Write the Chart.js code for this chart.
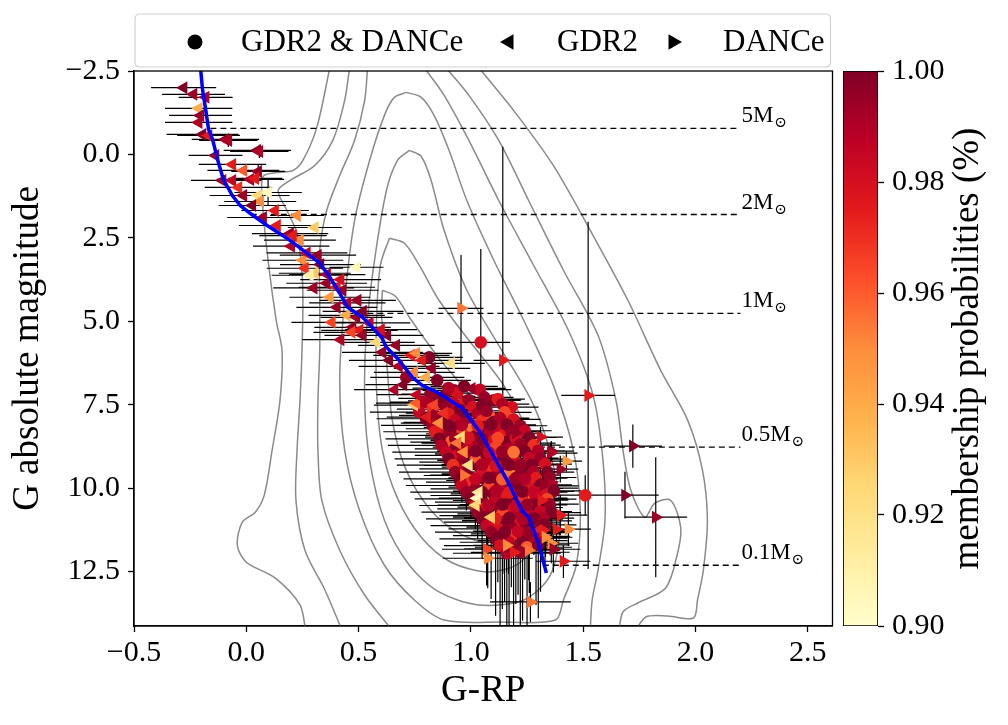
<!DOCTYPE html>
<html><head><meta charset="utf-8">
<script src="https://cdn.jsdelivr.net/npm/chart.js@4.4.1/dist/chart.umd.min.js"></script>
<style>
html,body{margin:0;padding:0;background:#fff;width:1008px;height:725px;overflow:hidden}
#main{position:absolute;left:0;top:0}
#cbar{position:absolute;left:842px;top:0}
</style></head><body>
<canvas id="main" width="840" height="725"></canvas>
<canvas id="cbar" width="166" height="725"></canvas>
<script>
const FONT = "'Liberation Serif','DejaVu Serif',serif";
const xRange = [-0.5, 2.61];
const yRange = [-2.5, 14.13];
const probRange = [0.90, 1.00];
const xTicks = [-0.5, 0, 0.5, 1, 1.5, 2, 2.5];
const yTicks = [-2.5, 0, 2.5, 5, 7.5, 10, 12.5];
const cbTicks = [0.90, 0.92, 0.94, 0.96, 0.98, 1.00];
const legendLabels = ['GDR2 & DANCe', 'GDR2', 'DANCe'];
const xTitle = 'G-RP';
const yTitle = 'G absolute magnitude';
const cbTitle = 'membership probabilities (%)';

// mass reference lines
const massLabels = ['5', '2', '1', '0.5', '0.1'];
const massMag = [-0.78, 1.80, 4.76, 8.77, 12.31];
const massStart = [-0.16, 0.02, 0.45, 1.08, 1.32];
const massEnd = 2.2;

// isochrone
const isoX = [-0.204,-0.195,-0.181,-0.168,-0.150,-0.128,-0.102,-0.062,-0.027,0.018,0.093,0.181,0.252,0.327,0.372,0.416,0.451,0.518,0.602,0.624,0.681,0.739,0.783,0.858,0.960,1.035,1.111,1.168,1.226,1.257,1.301,1.336];
const isoY = [-2.6,-1.95,-1.35,-0.75,-0.45,0.15,0.75,1.23,1.53,1.77,2.13,2.51,2.87,3.26,3.68,4.16,4.58,4.88,5.48,5.78,6.17,6.68,6.92,7.16,7.60,8.26,9.16,9.85,10.66,10.87,11.65,12.54];

// [G-RP, G, errG-RP, errG, probability]
const gdrDance = [
[0.814,6.08,0.15,0.10,1.00],[0.712,6.68,0.16,0.10,0.995],[0.850,6.77,0.15,0.12,1.00],[0.925,7.07,0.14,0.10,0.995],[0.827,7.31,0.15,0.10,0.99],
[1.044,5.63,0.13,2.80,0.98],[1.509,10.21,0.30,0.60,0.975],
[0.969,7.46,0.13,0.12,0.975],[1.102,7.37,0.12,0.12,1.00],[1.181,7.57,0.12,0.15,0.98],
[1.124,8.32,0.14,0.20,0.955],[1.058,9.10,0.16,0.30,0.955],[1.190,9.67,0.15,0.40,0.95],[1.044,9.52,0.17,0.35,0.955],[1.102,10.30,0.17,0.55,0.95],
[1.358,10.00,0.12,0.50,0.995],[1.270,9.61,0.13,0.45,1.00],[1.257,8.65,0.12,0.25,0.995],
[0.82,7.18,0.13,0.12,0.995],[0.88,7.25,0.14,0.10,1.00],[0.94,7.15,0.12,0.12,0.98],
[0.79,7.42,0.15,0.12,0.99],[0.86,7.38,0.14,0.15,1.00],[0.92,7.45,0.13,0.10,0.985],[0.99,7.36,0.12,0.12,0.995],
[0.83,7.63,0.16,0.15,0.97],[0.89,7.58,0.14,0.12,0.995],[0.95,7.65,0.13,0.15,1.00],[1.01,7.57,0.12,0.10,0.98],
[0.84,7.82,0.16,0.15,0.995],[0.90,7.78,0.15,0.18,0.975],[0.97,7.84,0.14,0.15,1.00],[1.03,7.76,0.13,0.15,0.99],[1.08,7.81,0.12,0.12,0.96],
[0.87,8.03,0.17,0.18,1.00],[0.93,7.97,0.15,0.20,0.985],[0.99,8.04,0.14,0.18,0.995],[1.05,7.98,0.13,0.15,0.97],[1.10,8.02,0.12,0.18,1.00],
[0.88,8.22,0.17,0.20,0.98],[0.94,8.18,0.15,0.20,1.00],[1.00,8.24,0.14,0.22,0.955],[1.06,8.17,0.13,0.20,0.995],[1.12,8.21,0.13,0.20,0.985],
[0.90,8.42,0.18,0.20,0.995],[0.96,8.37,0.16,0.22,0.97],[1.02,8.44,0.14,0.20,1.00],[1.08,8.38,0.13,0.25,0.99],[1.14,8.42,0.12,0.22,0.975],
[0.91,8.62,0.18,0.25,0.96],[0.98,8.57,0.16,0.25,1.00],[1.04,8.64,0.15,0.25,0.99],[1.10,8.58,0.14,0.25,0.98],[1.16,8.61,0.13,0.22,1.00],
[0.93,8.82,0.18,0.25,1.00],[0.99,8.77,0.16,0.30,0.985],[1.05,8.84,0.15,0.28,0.995],[1.11,8.78,0.14,0.25,0.965],[1.17,8.82,0.13,0.30,0.99],
[0.94,9.02,0.19,0.30,0.98],[1.01,8.97,0.17,0.30,0.995],[1.07,9.04,0.15,0.30,1.00],[1.13,8.98,0.14,0.30,0.975],[1.19,9.01,0.13,0.30,0.995],
[0.96,9.22,0.19,0.30,0.995],[1.02,9.17,0.17,0.35,0.96],[1.08,9.24,0.16,0.35,0.99],[1.14,9.18,0.15,0.30,1.00],[1.20,9.22,0.14,0.35,0.98],
[0.97,9.42,0.20,0.35,0.985],[1.04,9.37,0.17,0.40,1.00],[1.10,9.44,0.16,0.35,0.97],[1.16,9.38,0.15,0.40,0.995],[1.22,9.41,0.14,0.40,0.99],
[0.99,9.62,0.20,0.40,1.00],[1.05,9.57,0.18,0.40,0.98],[1.11,9.64,0.16,0.45,0.995],[1.17,9.58,0.15,0.40,0.955],[1.23,9.61,0.14,0.45,1.00],
[1.00,9.82,0.20,0.45,0.97],[1.07,9.77,0.18,0.50,0.995],[1.13,9.84,0.17,0.45,1.00],[1.19,9.78,0.15,0.50,0.985],[1.25,9.81,0.14,0.45,0.975],
[1.02,10.02,0.20,0.50,0.995],[1.08,9.97,0.18,0.55,0.965],[1.14,10.04,0.17,0.50,0.99],[1.20,9.98,0.16,0.55,1.00],[1.26,10.01,0.15,0.50,0.98],
[1.03,10.22,0.21,0.55,0.98],[1.10,10.17,0.19,0.60,1.00],[1.16,10.24,0.17,0.60,0.975],[1.22,10.18,0.16,0.55,0.995],[1.28,10.21,0.15,0.60,0.96],
[1.05,10.42,0.21,0.60,0.995],[1.11,10.37,0.19,0.65,0.985],[1.17,10.44,0.17,0.60,1.00],[1.23,10.38,0.16,0.65,0.97],
[1.06,10.62,0.21,0.65,0.975],[1.13,10.57,0.19,0.70,0.995],[1.19,10.64,0.18,0.70,0.98],[1.25,10.58,0.16,0.65,1.00],
[1.08,10.82,0.22,0.70,1.00],[1.14,10.77,0.20,0.75,0.965],[1.20,10.84,0.18,0.70,0.99],[1.26,10.78,0.16,0.75,0.985],
[1.10,11.02,0.22,0.75,0.99],[1.16,10.97,0.20,0.80,1.00],[1.22,11.04,0.18,0.80,0.975],[1.28,10.98,0.17,0.75,0.995],
[1.12,11.22,0.22,1.60,0.98],[1.18,11.17,0.20,1.80,0.995],[1.24,11.24,0.18,1.50,1.00],
[1.14,11.42,0.22,2.20,1.00],[1.20,11.37,0.20,2.10,0.97],[1.26,11.44,0.18,1.70,0.99],
[1.17,11.62,0.22,2.50,0.985],[1.23,11.57,0.20,2.40,1.00],
[1.19,11.82,0.22,2.40,0.995],[1.25,11.77,0.20,2.50,0.96],
[0.90,7.00,0.16,0.10,0.99],[0.97,6.95,0.15,0.10,1.00],[1.04,7.05,0.14,0.12,0.985],
[1.06,7.28,0.13,0.12,0.995],[1.12,7.33,0.12,0.12,0.975],[1.05,7.52,0.13,0.15,1.00],[1.14,7.48,0.12,0.15,0.99],
[0.77,7.72,0.22,0.15,0.985],[1.07,7.68,0.13,0.15,0.995],[1.15,7.73,0.12,0.15,0.965],
[0.80,7.92,0.22,0.18,1.00],[1.13,7.90,0.13,0.18,0.99],[1.19,7.94,0.12,0.18,0.98],
[0.83,8.12,0.23,0.20,0.99],[1.16,8.10,0.13,0.20,1.00],[1.22,8.13,0.12,0.20,0.995],
[0.84,8.31,0.23,0.20,0.975],[1.18,8.30,0.13,0.22,0.995],[1.24,8.28,0.12,0.22,0.985],
[0.86,8.52,0.24,0.25,1.00],[1.20,8.50,0.13,0.25,0.98],[1.26,8.48,0.12,0.25,1.00],
[0.87,8.72,0.24,0.25,0.99],[1.22,8.70,0.13,0.28,0.995],[1.28,8.71,0.12,0.28,0.97],
[0.89,8.92,0.24,0.30,0.985],[1.24,8.90,0.13,0.30,1.00],[1.30,8.88,0.12,0.30,0.99],
[0.90,9.12,0.24,0.30,1.00],[1.26,9.10,0.13,0.35,0.985],[1.31,9.13,0.12,0.35,0.995],
[0.92,9.31,0.25,0.35,0.97],[1.27,9.30,0.13,0.40,1.00],[1.33,9.28,0.12,0.40,0.98],
[0.93,9.52,0.25,0.40,0.995],[1.28,9.50,0.13,0.45,0.99],[1.34,9.52,0.12,0.45,1.00],
[0.95,9.72,0.25,0.45,1.00],[1.29,9.70,0.14,0.50,0.975],[1.35,9.68,0.12,0.50,0.995],
[0.96,9.92,0.25,0.50,0.985],[1.31,9.90,0.14,0.55,1.00],[1.36,9.93,0.12,0.55,0.99],
[0.98,10.12,0.25,0.55,0.995],[1.32,10.10,0.14,0.60,0.98],[1.37,10.08,0.12,0.60,1.00],
[1.00,10.32,0.25,0.60,1.00],[1.29,10.30,0.14,0.65,0.99],[1.34,10.33,0.13,0.65,0.965],
[1.02,10.52,0.25,0.70,0.98],[1.29,10.50,0.14,0.70,1.00],[1.35,10.48,0.13,0.70,0.995],
[1.03,10.72,0.25,0.80,0.995],[1.31,10.70,0.14,0.80,0.985],[1.36,10.73,0.13,0.80,1.00],
[1.05,10.92,0.25,1.20,1.00],[1.32,10.90,0.14,1.10,0.99],
[1.07,11.12,0.25,1.80,0.985],[1.33,11.10,0.14,1.40,1.00],
[1.09,11.32,0.25,2.00,0.995],[1.31,11.30,0.14,1.80,0.975],
[1.11,11.52,0.25,2.30,1.00],[1.29,11.50,0.14,2.00,0.99],
[1.13,11.72,0.25,2.40,0.98],[1.30,11.70,0.14,2.20,1.00],
[1.16,11.95,0.24,2.30,0.99],[1.22,11.92,0.22,2.30,0.995],
[0.90,8.12,0.18,0.20,1.00],[0.96,8.10,0.16,0.20,0.99],[1.03,8.13,0.14,0.20,0.975],[1.09,8.09,0.13,0.20,1.00],
[0.93,8.52,0.18,0.25,0.995],[0.99,8.49,0.16,0.25,0.98],[1.05,8.53,0.15,0.25,1.00],[1.12,8.50,0.14,0.25,0.965],
[0.96,8.92,0.19,0.30,0.99],[1.02,8.89,0.17,0.30,1.00],[1.08,8.93,0.16,0.30,0.985],[1.14,8.90,0.15,0.30,0.995],[1.19,8.92,0.14,0.30,0.955],
[0.99,9.32,0.20,0.35,1.00],[1.05,9.29,0.18,0.40,0.99],[1.11,9.33,0.16,0.40,0.98],[1.17,9.30,0.15,0.40,1.00],[1.22,9.31,0.14,0.40,0.995],
[1.02,9.72,0.20,0.45,0.985],[1.08,9.69,0.18,0.50,1.00],[1.14,9.73,0.17,0.50,0.96],[1.20,9.70,0.16,0.50,0.995],[1.24,9.72,0.15,0.50,0.99],
[1.05,10.12,0.21,0.55,1.00],[1.11,10.09,0.19,0.60,0.99],[1.17,10.13,0.17,0.60,0.975],[1.23,10.10,0.16,0.60,1.00],[1.28,10.12,0.15,0.60,0.985],
[1.08,10.52,0.21,0.70,0.99],[1.14,10.49,0.19,0.70,1.00],[1.20,10.53,0.18,0.70,0.985],[1.25,10.50,0.16,0.70,0.995],
[1.11,10.92,0.22,1.30,0.975],[1.17,10.89,0.20,1.20,1.00],[1.23,10.93,0.18,1.40,0.99],[1.28,10.90,0.17,1.10,1.00],
[1.15,11.32,0.22,2.10,1.00],[1.21,11.29,0.20,1.90,0.985],[1.26,11.33,0.18,1.70,0.995]
];
const gdrOnly = [
[-0.279,-2.00,0.145,0.03,1.00],[-0.235,-1.80,0.140,0.03,0.995],[-0.181,-1.71,0.120,0.03,0.99],[-0.212,-1.38,0.150,0.03,0.94],
[-0.204,-1.17,0.140,0.03,0.995],[-0.212,-0.96,0.150,0.03,0.99],[-0.195,-0.60,0.160,0.03,1.00],[-0.168,-0.57,0.140,0.03,0.975],
[-0.093,-0.45,0.150,0.04,0.995],[-0.080,-0.42,0.130,0.20,0.99],[-0.137,0.03,0.120,0.04,0.995],[0.049,-0.12,0.150,0.04,1.00],
[0.058,-0.09,0.130,0.20,0.99],[-0.062,0.30,0.150,0.04,0.975],[-0.013,0.48,0.160,0.04,0.96],[0.053,0.51,0.120,0.20,0.995],
[-0.106,0.78,0.140,0.04,0.995],[-0.062,0.78,0.130,0.04,0.985],[0.018,0.75,0.150,0.05,0.99],[0.040,0.72,0.120,0.05,0.975],
[-0.035,0.99,0.150,0.05,0.97],[0.053,1.23,0.140,0.05,0.925],[0.097,1.14,0.150,0.40,0.905],[-0.013,1.23,0.150,0.05,0.995],
[0.062,1.41,0.160,0.05,0.95],[0.027,1.53,0.150,0.05,1.00],[0.128,1.68,0.150,0.05,0.975],[0.075,1.89,0.160,0.05,0.995],
[0.226,1.83,0.120,0.05,0.95],[0.137,2.13,0.170,0.05,0.975],[0.305,2.19,0.120,0.05,0.93],[0.195,2.37,0.170,0.05,0.995],
[0.239,2.57,0.160,0.05,0.95],[0.208,2.43,0.150,0.05,0.975],[0.319,3.02,0.170,0.06,0.995],[0.252,3.17,0.180,0.06,0.95],
[0.261,3.41,0.170,0.06,0.97],[0.305,3.56,0.160,0.06,0.93],[0.283,3.62,0.170,0.06,0.91],[0.491,3.38,0.120,0.06,0.905],
[0.358,3.86,0.180,0.06,0.995],[0.403,3.98,0.170,0.06,0.975],[0.429,4.07,0.160,0.06,0.995],[0.372,4.28,0.180,0.06,0.945],
[0.496,4.37,0.170,0.06,0.995],[0.403,4.58,0.180,0.06,0.995],[0.447,4.82,0.170,0.07,0.94],[0.491,4.88,0.160,0.07,0.995],
[0.381,5.03,0.180,0.07,0.965],[0.473,5.18,0.170,0.07,0.995],[0.504,5.27,0.170,0.07,0.975],[0.469,5.33,0.170,0.07,0.965],
[0.518,5.42,0.170,0.07,0.995],[0.628,5.42,0.160,0.07,1.00],[0.580,5.63,0.170,0.08,0.925],[0.668,5.72,0.170,0.08,0.995],
[0.606,5.93,0.180,0.08,0.995],[0.735,6.02,0.170,0.08,0.975],[0.757,5.96,0.160,0.08,0.95],[0.783,6.17,0.170,0.08,0.975],
[0.637,6.17,0.180,0.08,1.00],[0.912,6.26,0.150,0.08,0.92],[0.827,6.41,0.170,0.08,0.995],[0.748,6.53,0.180,0.09,0.95],
[0.801,6.68,0.170,0.09,0.94],[1.004,7.01,0.150,0.10,0.995],[0.748,7.51,0.180,0.10,0.93],[0.836,7.51,0.170,0.10,0.965],
[0.805,7.87,0.180,0.12,0.975],[0.757,7.45,0.180,0.10,0.96],[0.858,8.05,0.170,0.12,0.95],[0.956,8.47,0.160,0.15,0.925],
[0.940,8.65,0.160,0.15,0.955],[0.969,8.92,0.160,0.20,0.95],[0.991,9.31,0.160,0.20,0.92],[1.035,10.12,0.170,0.30,0.915],
[1.027,10.30,0.170,0.30,0.905],[1.022,10.51,0.170,0.30,0.925],[1.090,10.87,0.170,0.30,0.93],[0.880,7.75,0.170,0.10,0.97],
[0.20,2.75,0.17,0.05,0.99],[0.27,2.95,0.18,0.06,0.985],[0.33,3.30,0.18,0.06,1.00],[0.36,3.60,0.17,0.06,0.99],
[0.42,3.75,0.18,0.06,0.98],[0.30,4.00,0.18,0.06,0.995],[0.45,4.45,0.17,0.06,0.99],[0.52,4.70,0.18,0.07,1.00],
[0.55,5.05,0.18,0.07,0.985],[0.42,5.55,0.17,0.07,0.99],[0.60,5.25,0.16,0.07,0.98],[0.68,6.35,0.18,0.08,0.99],
[0.70,6.90,0.17,0.08,1.00],[0.76,7.20,0.18,0.10,0.985],[0.66,7.05,0.18,0.10,0.99]
];
const danceOnly = [
[0.956,4.61,0.10,1.60,0.955],[1.142,6.17,0.13,6.40,0.975],[1.522,7.22,0.12,5.20,0.975],[1.721,8.74,0.13,0.65,1.00],
[1.425,9.19,0.07,0.30,0.945],[1.398,9.43,0.08,0.40,0.995],[1.686,10.21,0.15,0.70,1.00],[1.823,10.87,0.14,1.80,0.995],
[1.358,8.89,0.10,0.30,0.995],[1.310,8.47,0.10,0.30,0.98],[1.265,13.41,0.18,0.60,0.955],[1.412,12.19,0.12,0.50,0.975],
[1.398,10.81,0.12,0.60,0.975],[1.434,11.23,0.10,0.50,0.95],[1.381,11.23,0.12,0.60,0.975],[1.071,11.83,0.20,0.80,0.965],
[1.075,12.10,0.20,0.90,0.95],[0.969,9.61,0.15,0.30,0.955],[1.323,9.91,0.12,0.40,0.995],[1.314,10.36,0.12,0.50,0.975],
[1.323,11.26,0.12,0.60,0.975],[1.332,11.47,0.12,0.60,0.95],[1.358,11.65,0.12,0.60,0.95],[1.168,11.77,0.15,0.80,0.995],
[1.190,11.92,0.15,0.90,0.975],[1.257,11.86,0.14,0.90,0.955],[1.367,11.83,0.12,0.70,0.995],[1.159,11.71,0.15,0.80,0.95],
[1.199,8.35,0.12,0.30,0.995],[1.355,8.95,0.12,0.30,0.99]
];

// grey density contours [G-RP, G]
const contour1 = [[0.372,-2.6],[0.314,-0.81],[0.252,0.18],[0.208,0.48],[0.137,0.54],[0.075,0.66],[0.071,1.38],[0.097,3.17],[0.133,4.97],[0.159,5.87],[0.150,7.37],[0.115,8.86],[0.080,10.21],[0.040,10.72],[-0.018,11.02],[-0.040,11.71],[0.000,12.22],[0.128,12.69],[0.239,13.50],[0.265,14.3]];
const contour2 = [[1.035,-2.6],[1.190,-1.32],[1.367,0.33],[1.544,2.43],[1.699,4.37],[1.845,6.47],[1.965,7.96],[2.031,9.46],[2.053,10.96],[2.035,12.46],[2.009,13.35],[1.991,13.89],[1.876,13.83],[1.779,13.86],[1.730,14.3]];
const contour3 = [[0.460,-2.6],[0.438,-1.62],[0.385,-0.42],[0.305,0.33],[0.195,0.78],[0.142,1.08],[0.181,1.68],[0.226,2.37],[0.248,3.56],[0.252,4.37],[0.248,5.87],[0.239,7.37],[0.226,8.86],[0.221,10.36],[0.261,11.86],[0.350,13.05],[0.429,14.3]];
const contour4 = [[0.889,-2.6],[0.991,-1.77],[1.124,-0.42],[1.257,1.38],[1.412,3.47],[1.566,5.42],[1.646,7.37],[1.677,8.86],[1.712,10.06],[1.774,10.87],[1.819,10.45],[1.889,10.36],[1.934,11.17],[1.920,11.95],[1.867,12.99],[1.743,13.44],[1.677,13.71],[1.659,14.3]];
const contour5 = [[0.540,-2.6],[0.527,-1.62],[0.482,-0.42],[0.416,0.63],[0.358,1.68],[0.327,2.87],[0.327,4.37],[0.327,5.87],[0.319,7.37],[0.319,8.86],[0.336,10.36],[0.416,11.86],[0.527,13.20],[0.655,14.3]];
const contour6 = [[0.792,-2.6],[0.881,-1.77],[0.991,-0.42],[1.124,1.38],[1.279,3.32],[1.434,5.27],[1.544,7.22],[1.588,9.16],[1.597,10.96],[1.566,12.46],[1.540,13.35],[1.531,14.3]];
const contour7 = [[0.712,-1.86],[0.779,-1.71],[0.836,-1.17],[0.903,-0.12],[0.982,1.38],[1.102,3.17],[1.235,4.97],[1.367,6.92],[1.456,8.86],[1.487,10.66],[1.469,12.31],[1.412,13.35],[1.376,13.95],[1.124,14.01],[0.881,13.95],[0.748,13.35],[0.615,12.31],[0.504,10.66],[0.438,8.86],[0.416,6.77],[0.438,4.37],[0.482,1.98],[0.549,0.18],[0.615,-1.17],[0.659,-1.71],[0.712,-1.86]];
const contour8 = [[0.726,-0.12],[0.779,0.06],[0.823,0.78],[0.881,2.28],[0.982,4.07],[1.124,5.72],[1.279,7.51],[1.367,9.31],[1.398,11.11],[1.354,12.60],[1.235,13.35],[1.035,13.50],[0.858,13.11],[0.726,12.31],[0.615,10.96],[0.549,9.16],[0.527,7.37],[0.535,5.27],[0.571,3.17],[0.624,1.08],[0.673,0.18],[0.726,-0.12]];
const contour9 = [[0.637,2.51],[0.704,2.66],[0.770,3.32],[0.858,4.37],[0.991,5.57],[1.146,6.92],[1.248,8.26],[1.310,9.76],[1.310,11.26],[1.221,12.22],[1.080,12.51],[0.912,12.22],[0.779,11.47],[0.673,10.30],[0.606,8.86],[0.580,7.07],[0.580,4.97],[0.597,3.32],[0.637,2.51]];
const contour10 = [[0.606,4.07],[0.664,4.25],[0.735,4.97],[0.858,6.11],[1.013,7.37],[1.137,8.71],[1.199,10.06],[1.177,11.20],[1.080,11.62],[0.947,11.35],[0.814,10.60],[0.708,9.40],[0.650,7.96],[0.624,6.17],[0.602,4.82],[0.606,4.07]];
const contours = [contour1, contour2, contour3, contour4, contour5, contour6, contour7, contour8, contour9, contour10];

// ---------- helpers ----------
const YLORRD = [[255,255,204],[255,237,160],[254,217,118],[254,178,76],[253,141,60],[252,78,42],[227,26,28],[189,0,38],[128,0,38]];
function cmap(p) {
  let t = (p - probRange[0]) / (probRange[1] - probRange[0]);
  t = Math.max(0, Math.min(1, t));
  const s = t * (YLORRD.length - 1);
  const i = Math.min(Math.floor(s), YLORRD.length - 2);
  const f = s - i, a = YLORRD[i], b = YLORRD[i + 1];
  return 'rgb(' + [0,1,2].map(k => Math.round(a[k] + (b[k] - a[k]) * f)).join(',') + ')';
}
const fmt1 = v => v.toFixed(1).replace('-', '\u2212');
const pts = s => s.map(r => ({x: r[0], y: r[1]}));
const cols = s => s.map(r => cmap(r[4]));
function errData(series) {
  const out = [];
  series.forEach(r => {
    const [x, y, ex, ey] = r;
    out.push({x: x - ex, y: y}, {x: x + ex, y: y}, {x: x, y: null},
             {x: x, y: y - ey}, {x: x, y: y + ey}, {x: x, y: null});
  });
  return out;
}
const errAll = errData(gdrDance).concat(errData(gdrOnly), errData(danceOnly));
const contourData = [];
contours.forEach(c => { c.forEach(p => contourData.push({x: p[0], y: p[1]})); contourData.push({x: c[0][0], y: null}); });
const massData = [];
massMag.forEach((m, i) => { massData.push({x: massStart[i], y: m}, {x: massEnd, y: m}, {x: massEnd, y: null}); });
const isoData = isoX.map((x, i) => ({x: x, y: isoY[i]}));

// ---------- plugins ----------
const framePlugin = {
  id: 'frame',
  afterDraw(chart) {
    const {ctx, chartArea: a} = chart;
    ctx.save(); ctx.strokeStyle = '#000'; ctx.lineWidth = 1.3;
    ctx.strokeRect(a.left, a.top, a.right - a.left, a.bottom - a.top);
    ctx.restore();
  }
};
const massPlugin = {
  id: 'massLabels',
  afterDatasetsDraw(chart) {
    const {ctx} = chart, xs = chart.scales.x, ys = chart.scales.y;
    ctx.save(); ctx.fillStyle = '#000'; ctx.textBaseline = 'alphabetic'; ctx.textAlign = 'left';
    massLabels.forEach((lab, i) => {
      const px = xs.getPixelForValue(massEnd) + 1, py = ys.getPixelForValue(massMag[i]);
      ctx.font = '23px ' + FONT;
      const t = lab + 'M';
      ctx.fillText(t, px, py - 6);
      const w = ctx.measureText(t).width;
      ctx.font = '15px ' + FONT;
      ctx.fillText('\u2299', px + w + 1, py - 1);
    });
    ctx.restore();
  }
};
const legendPlugin = {
  id: 'boxLegend',
  afterDraw(chart) {
    const {ctx, chartArea: a} = chart;
    const x0 = a.left + 1, x1 = a.right - 2, y0 = 14, y1 = 67, r = 5;
    ctx.save();
    ctx.beginPath();
    ctx.moveTo(x0 + r, y0); ctx.lineTo(x1 - r, y0); ctx.quadraticCurveTo(x1, y0, x1, y0 + r);
    ctx.lineTo(x1, y1 - r); ctx.quadraticCurveTo(x1, y1, x1 - r, y1);
    ctx.lineTo(x0 + r, y1); ctx.quadraticCurveTo(x0, y1, x0, y1 - r);
    ctx.lineTo(x0, y0 + r); ctx.quadraticCurveTo(x0, y0, x0 + r, y0); ctx.closePath();
    ctx.fillStyle = '#fff'; ctx.fill();
    ctx.strokeStyle = '#d0d0d0'; ctx.lineWidth = 1.2; ctx.stroke();
    const styles = [['circle', 0, 7.5], ['triangle', 270, 9], ['triangle', 90, 9]];
    const mx = [61, 375, 539], tx = [107, 423, 589];
    const cy = 42;
    ctx.fillStyle = '#000';
    ctx.font = '31px ' + FONT; ctx.textBaseline = 'middle'; ctx.textAlign = 'left';
    legendLabels.forEach((lab, i) => {
      Chart.helpers.drawPoint(ctx, {pointStyle: styles[i][0], rotation: styles[i][1], radius: styles[i][2], borderWidth: 0}, a.left + mx[i], cy);
      ctx.fillText(lab, a.left + tx[i], cy + 1);
    });
    ctx.restore();
  }
};

// ---------- main chart ----------
const tickFont = {family: FONT, size: 30};
const titleFont = {family: FONT, size: 37};
new Chart(document.getElementById('main'), {
  type: 'scatter',
  data: {
    datasets: [
      {type: 'line', data: isoData, borderColor: '#0000ff', borderWidth: 3.5, pointRadius: 0, tension: 0, order: 0},
      {data: pts(danceOnly), backgroundColor: cols(danceOnly), pointStyle: 'triangle', rotation: 90, pointRadius: 7.5, borderWidth: 0, order: 1},
      {data: pts(gdrOnly), backgroundColor: cols(gdrOnly), pointStyle: 'triangle', rotation: 270, pointRadius: 7.5, borderWidth: 0, order: 2},
      {data: pts(gdrDance), backgroundColor: cols(gdrDance), pointStyle: 'circle', pointRadius: 6.3, borderWidth: 0, order: 3},
      {type: 'line', data: errAll, borderColor: '#000', borderWidth: 1.2, pointRadius: 0, spanGaps: false, order: 4},
      {type: 'line', data: massData, borderColor: '#000', borderWidth: 1.3, borderDash: [6, 4], pointRadius: 0, spanGaps: false, order: 5},
      {type: 'line', data: contourData, borderColor: '#8a8a8a', borderWidth: 1.5, pointRadius: 0, spanGaps: false, tension: 0.3, order: 6}
    ]
  },
  options: {
    responsive: false, animation: false, events: [],
    layout: {padding: {left: 0, right: 4, top: 71, bottom: 0}},
    plugins: {legend: {display: false}, tooltip: {enabled: false}},
    scales: {
      x: {
        type: 'linear', min: xRange[0], max: xRange[1],
        afterBuildTicks: s => { s.ticks = xTicks.map(v => ({value: v})); },
        afterFit: s => { s.height = 99; },
        ticks: {font: tickFont, color: '#000', padding: 3, maxRotation: 0, callback: v => fmt1(v)},
        grid: {drawOnChartArea: false, drawTicks: true, tickLength: 6, tickColor: '#000', tickWidth: 1.3},
        border: {display: true, color: '#000', width: 1.3},
        title: {display: true, text: xTitle, font: titleFont, color: '#000', padding: {top: 0, bottom: 12}}
      },
      y: {
        type: 'linear', reverse: true, min: yRange[0], max: yRange[1],
        afterBuildTicks: s => { s.ticks = yTicks.map(v => ({value: v})); },
        afterFit: s => { s.width = 134; },
        ticks: {font: tickFont, color: '#000', padding: 8, callback: v => fmt1(v)},
        grid: {drawOnChartArea: false, drawTicks: true, tickLength: 6, tickColor: '#000', tickWidth: 1.3},
        border: {display: true, color: '#000', width: 1.3},
        title: {display: true, text: yTitle, font: titleFont, color: '#000', padding: {top: 6, bottom: 0}}
      }
    }
  },
  plugins: [framePlugin, massPlugin, legendPlugin]
});

// ---------- colour bar ----------
const cbTitlePlugin = {
  id: 'cbTitle',
  afterDraw(chart) {
    const {ctx, chartArea: a} = chart;
    ctx.save();
    ctx.translate(126, (a.top + a.bottom) / 2);
    ctx.rotate(-Math.PI / 2);
    ctx.font = '37px ' + FONT; ctx.fillStyle = '#000';
    ctx.textAlign = 'center'; ctx.textBaseline = 'middle';
    ctx.fillText(cbTitle, 0, 0);
    ctx.restore();
  }
};
new Chart(document.getElementById('cbar'), {
  type: 'bar',
  data: {
    labels: [''],
    datasets: [{
      data: [[probRange[0], probRange[1]]],
      backgroundColor: c => {
        const area = c.chart.chartArea;
        if (!area) return '#fff';
        const g = c.chart.ctx.createLinearGradient(0, area.bottom, 0, area.top);
        YLORRD.forEach((col, i) => g.addColorStop(i / (YLORRD.length - 1), 'rgb(' + col.join(',') + ')'));
        return g;
      },
      borderColor: '#000', borderWidth: 1.2, borderSkipped: false,
      barPercentage: 1, categoryPercentage: 1
    }]
  },
  options: {
    responsive: false, animation: false, events: [],
    layout: {padding: {left: 1, right: 0, top: 71, bottom: 99}},
    plugins: {legend: {display: false}, tooltip: {enabled: false}},
    scales: {
      x: {display: false},
      y: {
        position: 'right', min: probRange[0], max: probRange[1],
        afterBuildTicks: s => { s.ticks = cbTicks.map(v => ({value: v})); },
        afterFit: s => { s.width = 130; },
        ticks: {font: tickFont, color: '#000', padding: 8, callback: v => v.toFixed(2)},
        grid: {drawOnChartArea: false, drawTicks: true, tickLength: 6, tickColor: '#000', tickWidth: 1.3},
        border: {display: false}
      }
    }
  },
  plugins: [cbTitlePlugin]
});
</script></body></html>
